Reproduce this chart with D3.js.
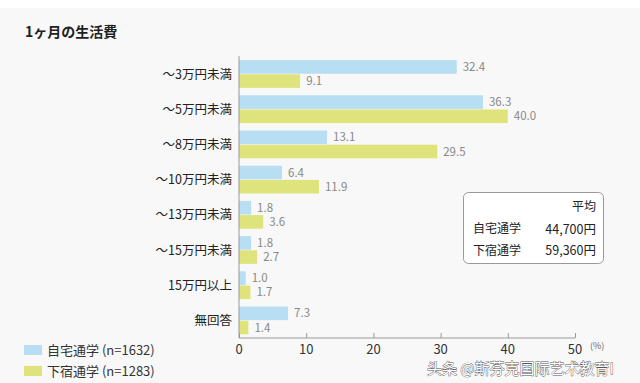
<!DOCTYPE html>
<html><head><meta charset="utf-8">
<script src="https://cdn.jsdelivr.net/npm/d3@7/dist/d3.min.js"></script>
<style>
html,body{margin:0;padding:0;background:#f8f8f8;}
svg{display:block;}
text{font-family:"Noto Sans CJK JP","Noto Sans",sans-serif;}
</style></head><body>
<svg id="c" width="640" height="383"></svg>
<script>
const categories = ["～3万円未満","～5万円未満","～8万円未満","～10万円未満","～13万円未満","～15万円未満","15万円以上","無回答"];
const seriesNames = ["自宅通学 (n=1632)","下宿通学 (n=1283)"];
const homeValues = [32.4,36.3,13.1,6.4,1.8,1.8,1.0,7.3];
const awayValues = [9.1,40.0,29.5,11.9,3.6,2.7,1.7,1.4];
const xTicks = [0,10,20,30,40,50];
const avgLabels = ["自宅通学","下宿通学"];
const avgValues = ["44,700円","59,360円"];
const colors = ["#b7def2","#dfe37c"];

const svg = d3.select("#c");
svg.append("rect").attr("x",0).attr("y",0).attr("width",640).attr("height",8).attr("fill","#ffffff");

const x = d3.scaleLinear().domain([0,50]).range([239,575]);
const y = d3.scaleBand().domain(categories).range([56.4,338]).paddingInner(0.21).paddingOuter(0.105);
const sub = d3.scaleBand().domain([0,1]).range([0,y.bandwidth()]).paddingInner(0.04);

// title
svg.append("text").attr("x",25).attr("y",37).attr("font-size",14).attr("font-weight","bold").attr("fill","#222").text("1ヶ月の生活費");

const data = categories.map((c,i)=>({c, v:[homeValues[i],awayValues[i]]}));
const g = svg.append("g");
data.forEach(d=>{
  d.v.forEach((v,j)=>{
    const yy = y(d.c)+sub(j);
    g.append("rect").attr("x",x(0)).attr("y",yy).attr("width",x(v)-x(0)).attr("height",sub.bandwidth()).attr("fill",colors[j]);
    g.append("text").attr("x",x(v)+6).attr("y",yy+sub.bandwidth()/2).attr("dy","0.36em")
      .attr("font-size",11.5).attr("fill","#888").attr("font-family","Liberation Sans, Arial, sans-serif").text(v.toFixed(1));
  });
  svg.append("text").attr("x",232).attr("y",y(d.c)+y.bandwidth()/2).attr("dy","0.36em").attr("text-anchor","end")
    .attr("font-size",12.5).attr("fill","#222").text(d.c);
});

// axes
const xa = svg.append("g").attr("transform","translate(0,338)")
  .call(d3.axisTop(x).tickValues(xTicks).tickSize(5).tickFormat(""));
xa.select(".domain").remove();
xa.selectAll("line").attr("stroke","#999");
svg.append("line").attr("x1",239).attr("x2",575).attr("y1",338).attr("y2",338).attr("stroke","#999");
svg.append("line").attr("x1",239).attr("x2",239).attr("y1",56).attr("y2",338).attr("stroke","#999");
xTicks.forEach(t=>{
  svg.append("text").attr("x",x(t)).attr("y",354).attr("text-anchor","middle").attr("font-size",13)
    .attr("fill","#333").attr("font-family","Liberation Sans, Arial, sans-serif").text(t);
});
svg.append("text").attr("x",590).attr("y",349).attr("font-size",9).attr("fill","#666").text("(%)");

// legend
seriesNames.forEach((s,j)=>{
  const ly = 345 + j*21;
  svg.append("rect").attr("x",24).attr("y",ly).attr("width",18).attr("height",10).attr("fill",colors[j]);
  svg.append("text").attr("x",47).attr("y",ly+5).attr("dy","0.36em").attr("font-size",13).attr("fill","#333").text(s);
});

// average box
svg.append("rect").attr("x",463.5).attr("y",192.5).attr("width",140).attr("height",71).attr("rx",5)
  .attr("fill","#fff").attr("stroke","#999");
svg.append("text").attr("x",596).attr("y",207).attr("dy","0.36em").attr("text-anchor","end").attr("font-size",12).attr("fill","#222").text("平均");
avgLabels.forEach((l,i)=>{
  const ty = 229 + i*21.5;
  svg.append("text").attr("x",473).attr("y",ty).attr("dy","0.36em").attr("font-size",12).attr("fill","#222").text(l);
  svg.append("text").attr("x",596).attr("y",ty).attr("dy","0.36em").attr("text-anchor","end").attr("font-size",12.5).attr("fill","#222").text(avgValues[i]);
});

// watermark
svg.append("text").attr("x",427).attr("y",369).attr("dy","0.36em").attr("font-size",15)
  .attr("fill","#fff").attr("stroke","#555").attr("stroke-width",0.8).attr("paint-order","stroke")
  .attr("font-family","Noto Sans CJK SC, sans-serif").text("头条 @斯芬克国际艺术教育I");
</script>
</body></html>
